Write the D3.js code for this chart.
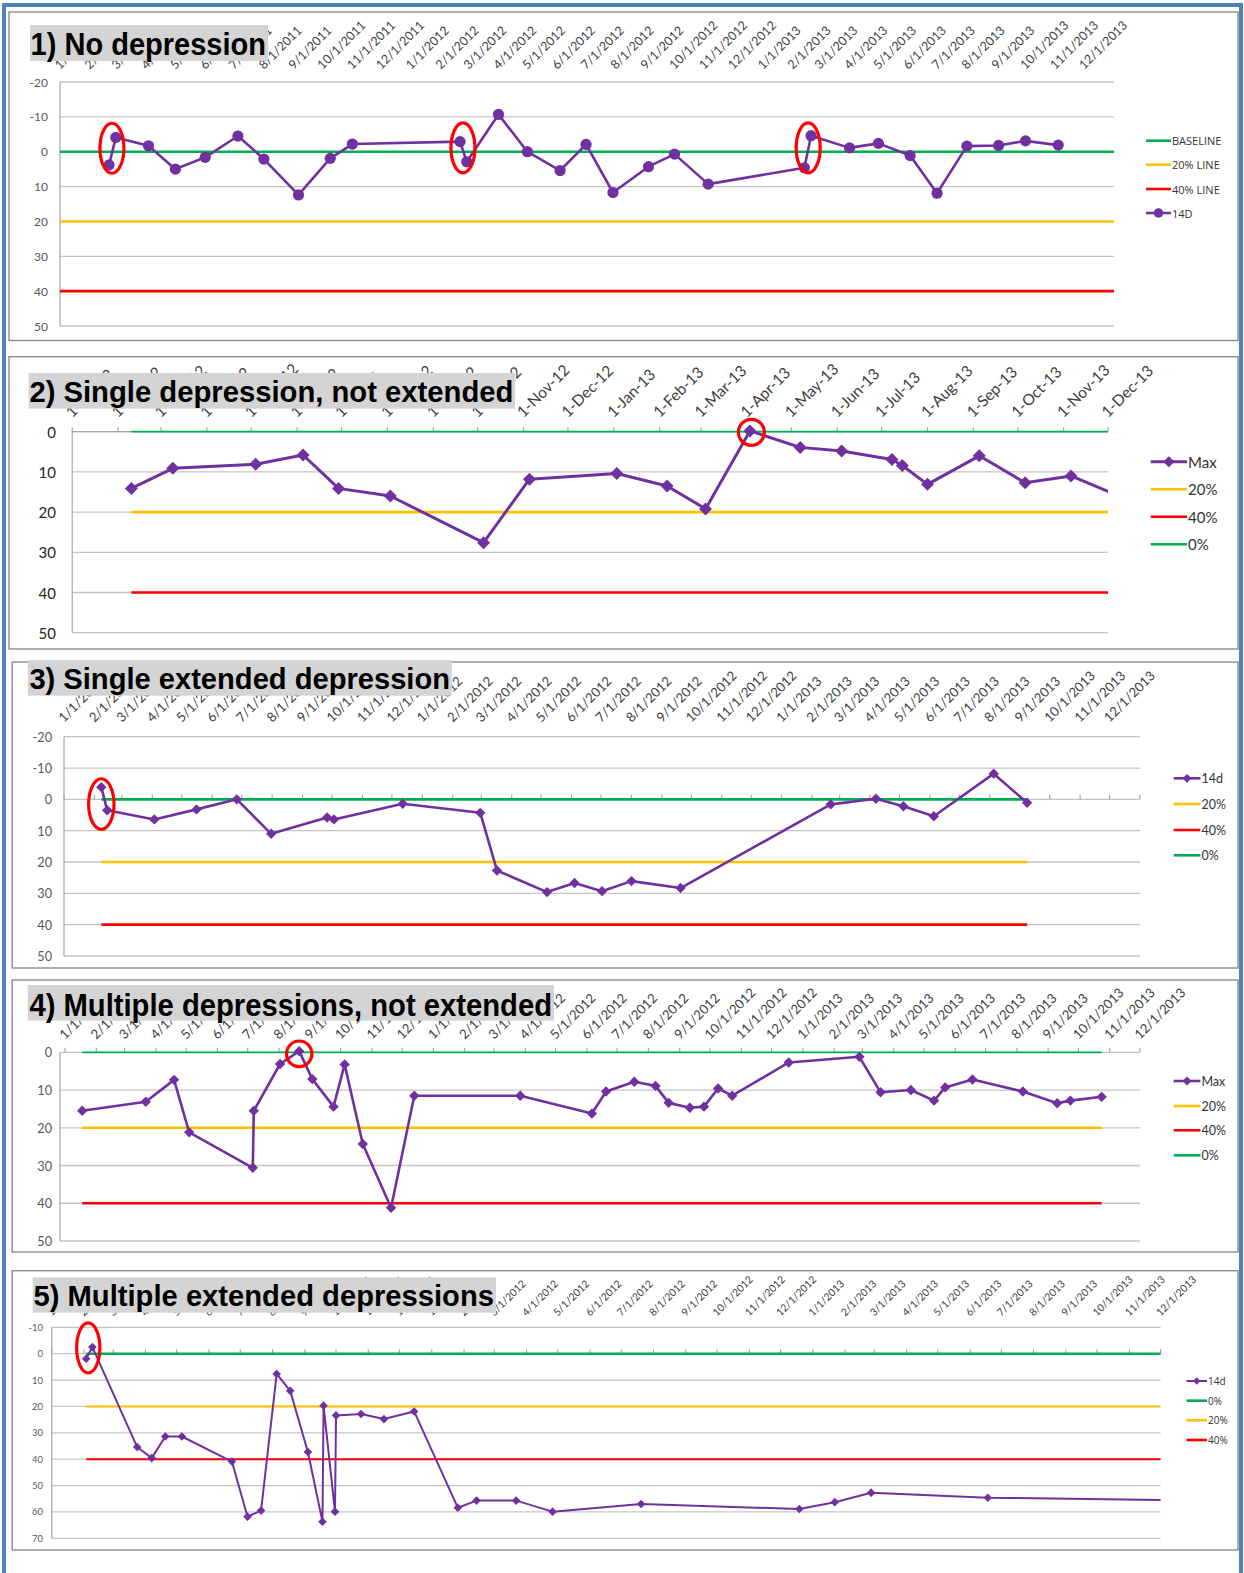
<!DOCTYPE html>
<html><head><meta charset="utf-8">
<script src="https://cdn.jsdelivr.net/npm/d3@7"></script>
<style>body{margin:0;background:#fff;} svg{display:block;}</style>
</head><body>
<svg id="chart" width="1244" height="1573"></svg>
<script>
// ---------------- DATA ----------------
const ticksMDY = ["1/1/2011","2/1/2011","3/1/2011","4/1/2011","5/1/2011","6/1/2011","7/1/2011","8/1/2011","9/1/2011","10/1/2011","11/1/2011","12/1/2011",
  "1/1/2012","2/1/2012","3/1/2012","4/1/2012","5/1/2012","6/1/2012","7/1/2012","8/1/2012","9/1/2012","10/1/2012","11/1/2012","12/1/2012",
  "1/1/2013","2/1/2013","3/1/2013","4/1/2013","5/1/2013","6/1/2013","7/1/2013","8/1/2013","9/1/2013","10/1/2013","11/1/2013","12/1/2013"];
const ticksDMY = ["1-Jan-12","1-Feb-12","1-Mar-12","1-Apr-12","1-May-12","1-Jun-12","1-Jul-12","1-Aug-12","1-Sep-12","1-Oct-12","1-Nov-12","1-Dec-12",
  "1-Jan-13","1-Feb-13","1-Mar-13","1-Apr-13","1-May-13","1-Jun-13","1-Jul-13","1-Aug-13","1-Sep-13","1-Oct-13","1-Nov-13","1-Dec-13"];
const thresholds = [0, 20, 40];

const titles = ["1) No depression","2) Single depression, not extended","3) Single extended depression",
  "4) Multiple depressions, not extended","5) Multiple extended depressions"];

const p1Dates = ["2011-02-21","2011-02-28","2011-04-03","2011-05-01","2011-06-01","2011-07-05","2011-08-01","2011-09-06","2011-10-09","2011-11-01",
  "2012-02-21","2012-02-28","2012-04-01","2012-05-01","2012-06-04","2012-07-01","2012-07-29","2012-09-04","2012-10-01","2012-11-05",
  "2013-02-13","2013-02-20","2013-04-01","2013-05-01","2013-06-03","2013-07-01","2013-08-01","2013-09-03","2013-10-01","2013-11-04"];
const p1Values = [3.8,-4.1,-1.7,5.0,1.6,-4.5,2.1,12.4,1.9,-2.2, -2.9,2.9,-10.7,0,5.4,-2.1,11.7,4.3,0.7,9.3, 4.6,-4.6,-1.1,-2.4,1.1,11.9,-1.6,-1.8,-3.1,-1.9];
const p1Legend = ["BASELINE","20% LINE","40% LINE","14D"];
const p1Marks = [["2011-02-24",-1.0],["2012-02-24",-1.1],["2013-02-17",-1.1]];

const p2Dates = ["2012-02-10","2012-03-09","2012-05-04","2012-06-05","2012-06-29","2012-08-03","2012-10-05","2012-11-05","2013-01-03","2013-02-06",
  "2013-03-04","2013-04-03","2013-05-07","2013-06-04","2013-07-08","2013-07-15","2013-08-01","2013-09-05","2013-10-06","2013-11-06","2013-12-15"];
const p2Values = [14.1,9.1,8.1,5.8,14.1,16.0,27.6,11.8,10.4,13.5, 19.2,-0.2,3.9,4.8,6.9,8.4,13.1,6.0,12.7,11.0,17.0];
const p2Legend = ["Max","20%","40%","0%"];
const p2Marks = [["2013-04-04",0.15]];

const p3Dates = ["2011-02-08","2011-02-14","2011-04-03","2011-05-16","2011-06-26","2011-07-31","2011-09-26","2011-10-03","2011-12-12","2012-02-29",
  "2012-03-17","2012-05-07","2012-06-04","2012-07-02","2012-08-01","2012-09-20","2013-02-20","2013-04-07","2013-05-05","2013-06-05","2013-08-05","2013-09-08"];
const p3Values = [-3.9,3.5,6.4,3.2,0,11.0,5.8,6.4,1.4,4.3, 22.7,29.6,26.7,29.3,26.1,28.3,1.6,-0.2,2.2,5.4,-8.2,1.1];
const p3Legend = ["14d","20%","40%","0%"];
const p3Marks = [["2011-02-08",1.5]];

const p4Dates = ["2011-01-18","2011-03-22","2011-04-19","2011-05-04","2011-07-06","2011-07-07","2011-08-02","2011-08-21","2011-09-03","2011-09-24",
  "2011-10-05","2011-10-23","2011-11-20","2011-12-13","2012-03-27","2012-06-06","2012-06-20","2012-07-18","2012-08-08","2012-08-21",
  "2012-09-11","2012-09-25","2012-10-09","2012-10-23","2012-12-18","2013-02-26","2013-03-19","2013-04-18","2013-05-11","2013-05-22",
  "2013-06-18","2013-08-07","2013-09-10","2013-09-23","2013-10-24"];
const p4Values = [15.5,13.1,7.3,21.2,30.6,15.5,3.1,-0.3,7.1,14.4, 3.2,24.3,41.2,11.5,11.5,16.2,10.4,7.8,8.9,13.4,
  14.7,14.4,9.6,11.5,2.7,1.2,10.6,10.0,12.8,9.3, 7.2,10.4,13.5,12.8,11.8];
const p4Legend = ["Max","20%","40%","0%"];
const p4Marks = [["2011-08-21",0.4]];

const p5Dates = ["2011-02-03","2011-02-09","2011-03-24","2011-04-07","2011-04-20","2011-05-06","2011-06-23","2011-07-08","2011-07-21","2011-08-05",
  "2011-08-18","2011-09-04","2011-09-18","2011-09-19","2011-09-30","2011-10-01","2011-10-25","2011-11-16","2011-12-15","2012-01-26",
  "2012-02-13","2012-03-22","2012-04-26","2012-07-20","2012-12-19","2013-01-22","2013-02-26","2013-06-18","2013-12-20"];
const p5Values = [1.9,-2.5,35.4,39.6,31.4,31.4,40.9,61.8,59.5,7.7, 14.1,37.3,63.7,19.7,59.9,23.4,22.9,24.8,21.9,58.4,
  55.7,55.7,59.9,57.0,58.9,56.3,52.7,54.6,55.6];
const p5Legend = ["14d","0%","20%","40%"];
const p5Marks = [["2011-02-05",-2.2]];

// ---------------- DRAWING ----------------
const C = {purple:"#7030a0", green:"#00b050", yellow:"#ffc000", red:"#ff0000"};
const parseISO = d3.timeParse("%Y-%m-%d");
const parseMDY = d3.timeParse("%m/%d/%Y");
const parseDMY = d3.timeParse("%d-%b-%y");
const svg = d3.select("#chart");
const LBL = "Lato, 'Open Sans', sans-serif";
const TTL = "'Liberation Sans Narrow','Arial Narrow','Liberation Sans',Arial,sans-serif";

svg.append("rect").attr("x",0).attr("y",0).attr("width",1244).attr("height",1573).attr("fill","#fff");

const panels = [
 {dates:p1Dates, values:p1Values, legend:p1Legend, legendKeys:["green","yellow","red","series"], marks:p1Marks,
  ticks:ticksMDY, parseTick:parseMDY, title:titles[0],
  box:[9,12,1229,328.5], tbox:[30,25,238,36], tx:30.6, tlen:235.4, tbase:55, tsize:32,
  xDomain:["2011-01-01","2014-01-01"], xRange:[60,1114], yDomain:[-20,50], yRange:[82,326], yStep:10,
  yLabelX:48, yLabelSize:12, yLabelColor:"#595959", xLabelSize:12.5, xLabelOff:12, tickMarks:null,
  marker:"circle", msize:5.6, lw:2.6, span:"full", gw:2.6, yw:2.6, rw:2.6,
  legX:[1146,1171], legY:[140.7,164.7,189,213], legSize:11, legFont:"'Liberation Sans Narrow','Open Sans',sans-serif",
  ell:[12,25]},
 {dates:p2Dates, values:p2Values, legend:p2Legend, legendKeys:["series","yellow","red","green"], marks:p2Marks,
  ticks:ticksDMY, parseTick:parseDMY, title:titles[1],
  box:[9,356.7,1229,292.3], tbox:[28.6,373,486.4,35.7], tx:29.4, tlen:484, tbase:402.3, tsize:30,
  xDomain:["2012-01-01","2013-12-01"], xRange:[72.2,1108], yDomain:[0,50], yRange:[431.7,632.7], yStep:10,
  yLabelX:56, yLabelSize:15, yLabelColor:"#262626", xLabelSize:15.5, xLabelOff:13.4, tickMarks:0, topAxis:true,
  marker:"diamond", msize:6.5, lw:3, span:"toEnd", gw:1.8, yw:2.6, rw:2.6,
  legX:[1150.7,1187], legY:[461.7,489.3,516.7,544.3], legSize:15, legFont:LBL,
  ell:[13,13]},
 {dates:p3Dates, values:p3Values, legend:p3Legend, legendKeys:["series","yellow","red","green"], marks:p3Marks,
  ticks:ticksMDY, parseTick:parseMDY, title:titles[2],
  box:[12.2,662,1225.8,306], tbox:[27.8,660,424,35.7], tx:29.4, tlen:420.6, tbase:689.3, tsize:29,
  xDomain:["2011-01-01","2014-01-01"], xRange:[64,1140], yDomain:[-20,50], yRange:[736.7,956], yStep:10,
  yLabelX:52, yLabelSize:12.7, yLabelColor:"#595959", xLabelSize:13.2, xLabelOff:13.7, tickMarks:0,
  marker:"diamond", msize:5.2, lw:2.6, span:"data", gw:2.6, yw:2.6, rw:2.6,
  legX:[1173.7,1200.4], legY:[778.3,804,830,855.3], legSize:12.5, legFont:LBL,
  ell:[12.7,25.3]},
 {dates:p4Dates, values:p4Values, legend:p4Legend, legendKeys:["series","yellow","red","green"], marks:p4Marks,
  ticks:ticksMDY, parseTick:parseMDY, title:titles[3],
  box:[12.2,980,1225.8,272], tbox:[27.8,985,526.1,35.7], tx:29.4, tlen:522.6, tbase:1015.7, tsize:31,
  xDomain:["2010-12-27","2013-12-01"], xRange:[60,1140], yDomain:[0,50], yRange:[1052.3,1241], yStep:10,
  yLabelX:52, yLabelSize:12.7, yLabelColor:"#595959", xLabelSize:13.2, xLabelOff:12.3, tickMarks:0,
  marker:"diamond", msize:5.2, lw:2.6, span:"data", gw:1.8, yw:2.6, rw:2.6,
  legX:[1173.7,1200.4], legY:[1081,1106,1130.3,1155.3], legSize:12.5, legFont:LBL,
  ell:[12.7,12.8]},
 {dates:p5Dates, values:p5Values, legend:p5Legend, legendKeys:["series","green","yellow","red"], marks:p5Marks,
  ticks:ticksMDY, parseTick:parseMDY, title:titles[4],
  box:[12.2,1270.7,1225.8,279.3], tbox:[32.7,1277.3,463.3,35.4], tx:33.5, tlen:460.5, tbase:1306, tsize:29,
  xDomain:["2011-01-01","2013-12-01"], xRange:[51.8,1160.6], yDomain:[-10,70], yRange:[1327.3,1538.3], yStep:10,
  yLabelX:43, yLabelSize:9.5, yLabelColor:"#595959", xLabelSize:10.4, xLabelOff:10.6, tickMarks:0,
  marker:"diamond", msize:4.3, lw:2, span:"toEnd", gw:2.6, yw:2, rw:2,
  legX:[1186.5,1207], legY:[1381,1400.7,1420.3,1440], legSize:10, legFont:"'Liberation Sans Narrow','Open Sans',sans-serif",
  ell:[11.6,25]}
];

function diamondPath(s){ return `M0,${-s}L${s},0L0,${s}L${-s},0Z`; }
function drawMarker(g, cfg, cx, cy, s){
  if (cfg.marker === "circle") g.append("circle").attr("cx",cx).attr("cy",cy).attr("r",s).attr("fill",C.purple);
  else g.append("path").attr("d",diamondPath(s)).attr("transform",`translate(${cx},${cy})`).attr("fill",C.purple);
}

panels.forEach((cfg, pi) => {
  const g = svg.append("g");
  const [bx,by,bw,bh] = cfg.box;
  g.append("rect").attr("x",bx).attr("y",by).attr("width",bw).attr("height",bh)
    .attr("fill","#fff").attr("stroke","#8c8c8c").attr("stroke-width",1.4);

  const x = d3.scaleTime().domain(cfg.xDomain.map(parseISO)).range(cfg.xRange);
  const y = d3.scaleLinear().domain(cfg.yDomain).range(cfg.yRange);
  const yTicks = d3.range(cfg.yDomain[0], cfg.yDomain[1] + 0.001, cfg.yStep);
  const [x0, x1] = cfg.xRange;

  // gridlines
  g.selectAll(".grid").data(yTicks).join("line")
    .attr("x1",x0).attr("x2",x1).attr("y1",d=>y(d)).attr("y2",d=>y(d))
    .attr("stroke", "#c4c4c4").attr("stroke-width",1.3);
  // y axis line
  g.append("line").attr("x1",x0).attr("x2",x0).attr("y1",cfg.yRange[0]).attr("y2",cfg.yRange[1])
    .attr("stroke","#a6a6a6").attr("stroke-width",1.2);
  if (cfg.topAxis) g.append("line").attr("x1",x0).attr("x2",x1).attr("y1",y(0)).attr("y2",y(0))
    .attr("stroke","#a6a6a6").attr("stroke-width",1.2);

  // y labels (hyphen-minus as in the original)
  g.selectAll(".yl").data(yTicks).join("text")
    .attr("x",cfg.yLabelX).attr("y",d=>y(d)).attr("text-anchor","end").attr("dominant-baseline","central")
    .attr("font-family",LBL).attr("font-size",cfg.yLabelSize).attr("fill",cfg.yLabelColor)
    .text(d=>String(Math.round(d)));

  // x tick marks
  const dom = x.domain();
  if (cfg.tickMarks !== null) {
    const tm = d3.timeMonth.range(d3.timeMonth.ceil(dom[0]), d3.timeDay.offset(dom[1],1));
    g.selectAll(".tm").data(tm).join("line")
      .attr("x1",d=>x(d)).attr("x2",d=>x(d)).attr("y1",y(cfg.tickMarks)).attr("y2",y(cfg.tickMarks)-4.5)
      .attr("stroke","#a6a6a6").attr("stroke-width",1.2);
  }
  // x labels (top)
  const topY = cfg.yRange[0] - cfg.xLabelOff;
  g.selectAll(".xl").data(cfg.ticks).join("text")
    .attr("transform",d=>`translate(${x(cfg.parseTick(d))},${topY}) rotate(-45)`)
    .attr("text-anchor","start").attr("font-family",LBL).attr("font-size",cfg.xLabelSize).attr("fill","#404040")
    .text(d=>d);

  // data
  const pts = cfg.dates.map((d,i)=>({date:parseISO(d), v:cfg.values[i]}));
  const dMin = pts[0].date, dMax = pts[pts.length-1].date;
  let hx0, hx1;
  if (cfg.span === "full") { hx0 = x0; hx1 = x1; }
  else if (cfg.span === "toEnd") { hx0 = x(dMin); hx1 = x1; }
  else { hx0 = x(dMin); hx1 = x(dMax); }
  const tcol = [C.green, C.yellow, C.red], tw = [cfg.gw, cfg.yw, cfg.rw];
  thresholds.forEach((t,i)=>{
    g.append("line").attr("x1",hx0).attr("x2",hx1).attr("y1",y(t)).attr("y2",y(t))
      .attr("stroke",tcol[i]).attr("stroke-width",tw[i]);
  });

  const clipId = "clip"+pi;
  svg.append("clipPath").attr("id",clipId).append("rect")
    .attr("x",x0-10).attr("y",cfg.yRange[0]-20).attr("width",x1-x0+10).attr("height",cfg.yRange[1]-cfg.yRange[0]+40);
  const sg = g.append("g").attr("clip-path",`url(#${clipId})`);
  sg.append("path").datum(pts)
    .attr("d", d3.line().x(d=>x(d.date)).y(d=>y(d.v)))
    .attr("fill","none").attr("stroke",C.purple).attr("stroke-width",cfg.lw).attr("stroke-linejoin","round");
  pts.filter(p=>p.date <= dom[1]).forEach(p=>drawMarker(sg, cfg, x(p.date), y(p.v), cfg.msize));

  // red highlight ellipses
  cfg.marks.forEach(m=>{
    g.append("ellipse").attr("cx",x(parseISO(m[0]))).attr("cy",y(m[1]))
      .attr("rx",cfg.ell[0]).attr("ry",cfg.ell[1])
      .attr("fill","none").attr("stroke","#ff0000").attr("stroke-width",3.2);
  });

  // title box
  const [tbx,tby,tbw,tbh] = cfg.tbox;
  g.append("rect").attr("x",tbx).attr("y",tby).attr("width",tbw).attr("height",tbh).attr("fill","#d4d4d4");
  g.append("text").attr("x",cfg.tx).attr("y",cfg.tbase)
    .attr("font-family",TTL).attr("font-weight","bold").attr("font-size",cfg.tsize).attr("fill","#000")
    .attr("textLength",cfg.tlen).attr("lengthAdjust","spacingAndGlyphs").text(cfg.title);

  // legend
  const keyColor = {green:C.green, yellow:C.yellow, red:C.red, series:C.purple};
  cfg.legend.forEach((lab,i)=>{
    const ly = cfg.legY[i], k = cfg.legendKeys[i];
    g.append("line").attr("x1",cfg.legX[0]).attr("x2",cfg.legX[1]).attr("y1",ly).attr("y2",ly)
      .attr("stroke",keyColor[k]).attr("stroke-width", k==="series" ? cfg.lw : 2.6);
    if (k==="series") drawMarker(g, cfg, (cfg.legX[0]+cfg.legX[1])/2, ly, cfg.msize*0.85);
    g.append("text").attr("x",cfg.legX[1]+1).attr("y",ly).attr("dominant-baseline","central")
      .attr("font-family",cfg.legFont).attr("font-size",cfg.legSize).attr("fill","#333").text(lab);
  });
});

// outer blue frame
svg.append("rect").attr("x",4).attr("y",5).attr("width",1237).attr("height",1590)
  .attr("fill","none").attr("stroke","#4f81bd").attr("stroke-width",4);
</script>
</body></html>
